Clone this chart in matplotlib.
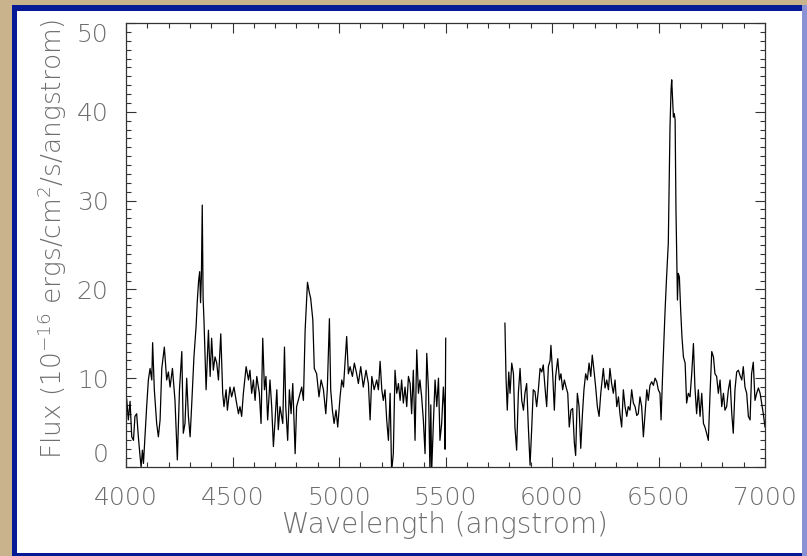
import matplotlib
matplotlib.use('Agg')
from matplotlib import pyplot as plt
from matplotlib.patches import Rectangle
from matplotlib.ticker import MultipleLocator

# spectrum: blue part (up to the gap) and red part
wave_blue = [4000, 4003, 4011, 4019, 4027, 4035, 4042, 4050, 4058, 4066, 4071, 4077, 4082, 4089,
             4097, 4105, 4113, 4121, 4125, 4133, 4144, 4152, 4160, 4168, 4180, 4191, 4199, 4207,
             4218, 4230, 4241, 4251, 4262, 4269, 4277, 4285, 4293, 4301, 4308, 4319, 4329, 4335,
             4341, 4346, 4350, 4354, 4358, 4362, 4366, 4376, 4387, 4395, 4402, 4410, 4418, 4426,
             4434, 4445, 4454, 4460, 4470, 4476, 4488, 4496, 4507, 4517, 4528, 4535, 4543, 4551,
             4564, 4575, 4582, 4590, 4598, 4606, 4614, 4626, 4634, 4642, 4650, 4657, 4665, 4676,
             4684, 4692, 4700, 4708, 4715, 4723, 4736, 4744, 4750, 4759, 4767, 4775, 4783, 4794,
             4801, 4817, 4825, 4833, 4841, 4852, 4861, 4867, 4877, 4884, 4895, 4906, 4916, 4927,
             4938, 4945, 4955, 4961, 4969, 4977, 4986, 4994, 5005, 5013, 5021, 5036, 5044, 5052,
             5063, 5072, 5083, 5091, 5102, 5114, 5127, 5138, 5146, 5154, 5165, 5177, 5185, 5193,
             5201, 5208, 5216, 5224, 5232, 5240, 5247, 5255, 5263, 5271, 5279, 5287, 5294, 5302,
             5310, 5318, 5326, 5334, 5341, 5349, 5357, 5365, 5373, 5380, 5388, 5396, 5404, 5412,
             5420, 5427, 5431, 5435, 5443, 5451, 5459, 5467, 5474, 5482, 5490, 5495, 5498, 5501]
flux_blue = [6.8, 7.7, 5.3, 7.4, 3.4, 3.0, 5.7, 6.0, 3.4, 1.2, 0.0, 1.9, 0.4, 3.4,
             6.8, 9.8, 11.1, 9.8, 14.0, 8.7, 4.9, 3.4, 5.3, 11.1, 13.5, 9.8, 10.7, 9.0,
             11.1, 7.5, 0.8, 8.7, 13.0, 3.8, 4.9, 10.0, 5.7, 3.4, 6.8, 12.4, 15.8, 18.8,
             21.0, 22.0, 18.5, 21.5, 29.5, 19.0, 16.6, 8.7, 15.4, 10.2, 14.5, 10.9, 12.4, 11.7,
             9.8, 15.0, 8.3, 6.8, 8.7, 6.4, 9.0, 7.9, 9.0, 7.5, 6.0, 6.8, 5.7, 8.3,
             11.3, 9.8, 10.9, 8.3, 9.8, 7.5, 10.2, 8.3, 4.9, 14.5, 8.7, 10.2, 5.3, 9.8,
             6.8, 2.3, 5.3, 8.7, 4.2, 6.8, 4.9, 13.5, 6.8, 3.0, 8.7, 6.0, 9.4, 1.5,
             6.8, 8.3, 9.0, 7.5, 15.4, 20.8, 19.6, 19.0, 16.6, 11.1, 10.5, 7.9, 9.8, 8.7,
             6.0, 8.7, 16.7, 8.7, 6.4, 4.9, 6.4, 4.5, 7.9, 9.8, 9.0, 14.7, 10.5, 11.3,
             10.2, 11.7, 10.5, 9.4, 11.3, 9.0, 10.9, 9.4, 5.3, 10.2, 8.7, 9.8, 8.7, 11.9,
             8.7, 7.5, 8.7, 5.3, 3.0, 8.3, -0.5, 1.5, 10.9, 8.3, 9.4, 7.5, 9.8, 7.2,
             9.0, 6.8, 10.2, 9.4, 6.0, 10.9, 3.0, 13.2, 8.3, 9.8, 7.9, 5.3, 1.5, 12.8,
             8.7, -0.5, 7.0, -0.5, 4.9, 9.8, 6.8, 10.0, 3.0, 4.9, 9.0, 6.8, 2.0, 14.5]

wave_red = [5779, 5784, 5790, 5797, 5803, 5811, 5819, 5826, 5834, 5842, 5850, 5858, 5866, 5873,
            5881, 5889, 5897, 5905, 5912, 5920, 5928, 5936, 5944, 5952, 5959, 5967, 5975, 5983,
            5991, 5995, 6003, 6011, 6017, 6027, 6035, 6042, 6050, 6058, 6066, 6074, 6081, 6089,
            6097, 6105, 6111, 6119, 6127, 6135, 6143, 6150, 6158, 6166, 6174, 6182, 6189, 6197,
            6205, 6213, 6221, 6229, 6241, 6249, 6257, 6265, 6272, 6280, 6288, 6296, 6304, 6312,
            6319, 6327, 6335, 6343, 6351, 6358, 6366, 6374, 6382, 6390, 6398, 6405, 6413, 6421,
            6429, 6437, 6445, 6452, 6460, 6468, 6476, 6484, 6492, 6499, 6507, 6512, 6520, 6531,
            6538, 6546, 6554, 6559, 6562, 6567, 6570, 6574, 6578, 6582, 6589, 6593, 6598, 6604,
            6610, 6617, 6625, 6632, 6640, 6648, 6656, 6664, 6671, 6679, 6687, 6695, 6703, 6711,
            6718, 6726, 6734, 6742, 6750, 6758, 6765, 6773, 6781, 6789, 6797, 6805, 6812, 6820,
            6828, 6836, 6844, 6851, 6859, 6867, 6875, 6883, 6891, 6898, 6906, 6914, 6922, 6930,
            6937, 6945, 6953, 6961, 6969, 6977, 6984, 6992, 7000]
flux_red = [16.2, 10.2, 6.4, 10.7, 8.3, 11.7, 10.5, 4.5, 1.9, 8.3, 11.1, 7.5, 6.4, 8.3,
            9.4, 4.5, 0.2, 4.5, 8.7, 8.5, 6.8, 8.7, 11.1, 10.7, 11.5, 9.0, 6.8, 11.3,
            12.0, 13.7, 10.5, 6.4, 10.2, 12.2, 9.8, 10.5, 8.7, 9.8, 9.0, 8.3, 4.5, 6.4,
            6.6, 2.7, 1.3, 8.3, 6.8, 2.1, 6.0, 8.7, 10.5, 9.8, 11.7, 10.2, 12.6, 10.9,
            9.0, 6.8, 5.7, 8.3, 11.1, 8.9, 9.8, 8.7, 11.1, 9.4, 8.3, 9.8, 6.8, 7.9,
            6.0, 4.5, 8.7, 6.8, 5.7, 6.8, 6.4, 8.7, 7.2, 6.8, 5.8, 6.0, 7.9, 6.8,
            3.4, 6.0, 8.7, 7.5, 9.2, 9.6, 9.2, 10.0, 9.6, 8.7, 8.3, 5.3, 10.9, 17.7,
            21.4, 25.2, 38.3, 42.5, 43.6, 41.0, 39.4, 39.8, 39.1, 29.0, 18.8, 21.8, 21.4, 17.7,
            14.7, 12.4, 11.7, 7.2, 8.3, 7.9, 10.5, 13.9, 9.0, 6.0, 8.7, 5.7, 8.3, 4.9,
            4.5, 3.8, 3.0, 8.3, 13.0, 12.4, 10.5, 10.2, 8.3, 9.8, 6.8, 8.3, 6.4, 6.8,
            8.7, 9.8, 6.0, 3.8, 8.7, 10.7, 10.9, 10.3, 9.8, 11.3, 9.0, 8.3, 5.7, 5.3,
            10.5, 11.8, 7.5, 8.3, 8.9, 8.3, 7.2, 6.0, 4.5]

xticks = [4000, 4500, 5000, 5500, 6000, 6500, 7000]
yticks = [0, 10, 20, 30, 40, 50]

W, H = 807, 556
txt_col = '#6e6e6e'
font = dict(family='DejaVu Sans', weight='light', color=txt_col)

plt.rcParams['mathtext.fontset'] = 'custom'
plt.rcParams['mathtext.rm'] = 'DejaVu Sans:light'
plt.rcParams['mathtext.it'] = 'DejaVu Sans:light'
plt.rcParams['mathtext.sf'] = 'DejaVu Sans:light'

fig = plt.figure(figsize=(W / 100, H / 100), dpi=100, facecolor='#c8b38c')
# blue frame with the white panel inside
fig.patches.append(Rectangle((12 / W, 0), 1 - 12 / W, 551 / H, transform=fig.transFigure,
                             facecolor='#071a96', edgecolor='none', zorder=-10))
fig.patches.append(Rectangle((802 / W, 0), 5 / W, 551 / H, transform=fig.transFigure,
                             facecolor='#8a92d4', edgecolor='none', zorder=-9))
fig.patches.append(Rectangle((17 / W, 3 / H), 785 / W, 542 / H, transform=fig.transFigure,
                             facecolor='white', edgecolor='none', zorder=-8))

ax = fig.add_axes([126 / W, (H - 467) / H, 639 / W, 444 / H])
ax.set_facecolor('white')
ax.plot(wave_blue, flux_blue, color='black', lw=0.9)
ax.plot(wave_red, flux_red, color='black', lw=0.9)
ax.set_xlim(4000, 7000)
ax.set_ylim(0, 50)

ax.set_xticks(xticks)
ax.set_yticks(yticks)
ax.xaxis.set_minor_locator(MultipleLocator(100))
ax.yaxis.set_minor_locator(MultipleLocator(1))
ax.tick_params(which='both', direction='in', top=True, right=True, color='#333333', width=0.8)
ax.tick_params(which='major', length=7.2)
ax.tick_params(which='minor', length=3.6)
ax.tick_params(axis='x', pad=14)
ax.tick_params(axis='y', pad=12.5)
for sp in ax.spines.values():
    sp.set_color('#333333')
    sp.set_linewidth(0.9)

ax.set_xticklabels([str(v) for v in xticks], fontdict=font, fontsize=18)
ax.set_yticklabels([str(v) for v in yticks], fontdict=font, fontsize=18)
# IDL keeps the end labels inside the axis box
ylabels = ax.get_yticklabels()
ylabels[0].set_va('bottom')
ylabels[-1].set_va('top')

fig.text(445 / W, (H - 525) / H, 'Wavelength (angstrom)', ha='center', va='center',
         fontsize=20, **font)
fig.text(52 / W, (H - 239) / H, 'Flux (10$^{-16}$ ergs/cm$^{2}$/s/angstrom)', ha='center',
         va='center', rotation=90, fontsize=19, **font)

plt.savefig('out.png', dpi=100, facecolor=fig.get_facecolor())
